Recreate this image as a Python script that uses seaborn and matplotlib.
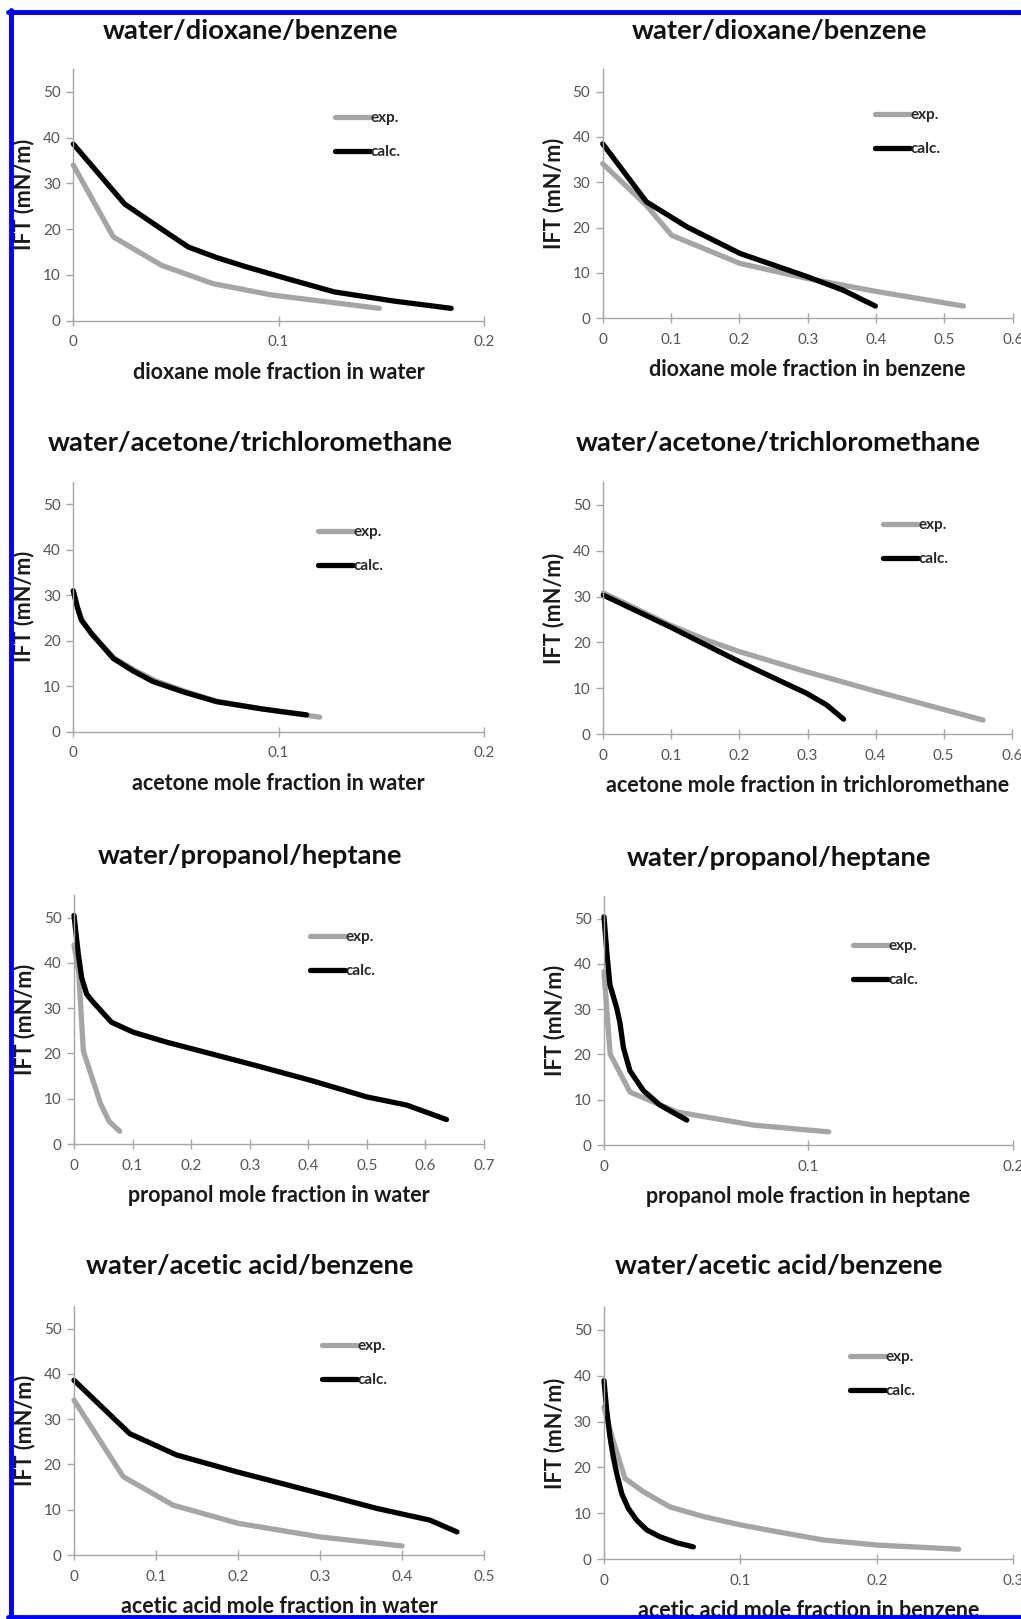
import matplotlib
matplotlib.use("Agg")
import matplotlib.pyplot as plt
import seaborn as sns
import pandas as pd
from matplotlib.ticker import FixedLocator, FuncFormatter
from matplotlib.lines import Line2D

# ---------------- data ----------------
series_names = ["exp.", "calc."]
y_label = "IFT (mN/m)"

titles = ["water/dioxane/benzene", "water/dioxane/benzene",
          "water/acetone/trichloromethane", "water/acetone/trichloromethane",
          "water/propanol/heptane", "water/propanol/heptane",
          "water/acetic acid/benzene", "water/acetic acid/benzene"]
x_labels = ["dioxane mole fraction in water", "dioxane mole fraction in benzene",
            "acetone mole fraction in water", "acetone mole fraction in trichloromethane",
            "propanol mole fraction in water", "propanol mole fraction in heptane",
            "acetic acid mole fraction in water", "acetic acid mole fraction in benzene"]
x_max = [0.2, 0.6, 0.2, 0.6, 0.7, 0.2, 0.5, 0.3]
y_ticks = [0, 10, 20, 30, 40, 50]

# panel 1
p1_exp_x = [0, 0.0195, 0.043, 0.068, 0.097, 0.149]
p1_exp_y = [34.0, 18.3, 12.1, 8.1, 5.6, 2.7]
p1_calc_x = [0, 0.025, 0.044, 0.056, 0.0698, 0.084, 0.104, 0.127, 0.156, 0.184]
p1_calc_y = [38.6, 25.5, 19.7, 16.1, 13.8, 11.8, 9.2, 6.3, 4.3, 2.7]
# panel 2
p2_exp_x = [0, 0.064, 0.101, 0.201, 0.299, 0.401, 0.528]
p2_exp_y = [34.1, 24.9, 18.3, 12.1, 8.8, 5.9, 2.7]
p2_calc_x = [0, 0.064, 0.123, 0.201, 0.299, 0.352, 0.399]
p2_calc_y = [38.5, 25.7, 20.2, 14.3, 9.2, 6.2, 2.7]
# panel 3
p3_exp_x = [0, 0.002, 0.004, 0.009, 0.020, 0.030, 0.040, 0.055, 0.070, 0.095, 0.120]
p3_exp_y = [31.0, 27.5, 24.8, 21.3, 16.2, 13.5, 11.2, 8.8, 6.7, 4.8, 3.2]
p3_calc_x = [0, 0.002, 0.004, 0.0089, 0.0195, 0.029, 0.039, 0.054, 0.0698, 0.092, 0.1136]
p3_calc_y = [31.0, 27.3, 24.5, 21.6, 16.1, 13.4, 11.0, 8.7, 6.6, 5.0, 3.7]
# panel 4
p4_exp_x = [0, 0.098, 0.152, 0.200, 0.299, 0.402, 0.558]
p4_exp_y = [30.8, 23.8, 20.5, 18.0, 13.6, 9.3, 3.1]
p4_calc_x = [0, 0.098, 0.200, 0.299, 0.328, 0.353]
p4_calc_y = [30.3, 23.4, 15.8, 8.9, 6.4, 3.3]
# panel 5
p5_exp_x = [0, 0.008, 0.016, 0.030, 0.045, 0.060, 0.078]
p5_exp_y = [44.0, 38.0, 20.5, 15.0, 9.0, 5.0, 2.8]
p5_calc_x = [0, 0.0074, 0.013, 0.0216, 0.033, 0.064, 0.101, 0.158, 0.300, 0.403, 0.500, 0.568, 0.636]
p5_calc_y = [50.5, 41.9, 36.8, 33.1, 31.3, 26.9, 24.7, 22.5, 17.7, 14.1, 10.4, 8.6, 5.4]
# panel 6
p6_exp_x = [0, 0.003, 0.0127, 0.0356, 0.073, 0.110]
p6_exp_y = [38.3, 20.1, 11.7, 7.3, 4.4, 2.9]
p6_calc_x = [0, 0.0015, 0.0029, 0.0062, 0.0078, 0.0095, 0.0127, 0.0193, 0.0274, 0.0405]
p6_calc_y = [50.4, 42.0, 35.4, 30.3, 27.0, 21.5, 16.4, 12.0, 8.8, 5.5]
# panel 7
p7_exp_x = [0, 0.060, 0.121, 0.200, 0.300, 0.400]
p7_exp_y = [34.2, 17.3, 11.0, 7.0, 4.0, 2.0]
p7_calc_x = [0, 0.068, 0.125, 0.198, 0.300, 0.369, 0.434, 0.467]
p7_calc_y = [38.6, 26.8, 22.1, 18.4, 13.6, 10.3, 7.7, 5.1]
# panel 8
p8_exp_x = [0, 0.006, 0.0154, 0.0289, 0.0484, 0.073, 0.0998, 0.127, 0.161, 0.200, 0.260]
p8_exp_y = [33.1, 26.5, 17.6, 14.7, 11.4, 9.3, 7.5, 6.0, 4.2, 3.1, 2.2]
p8_calc_x = [0, 0.002, 0.0044, 0.0068, 0.0093, 0.013, 0.0178, 0.024, 0.0313, 0.041, 0.0533, 0.0655]
p8_calc_y = [38.9, 32.4, 26.6, 22.3, 18.7, 14.3, 11.1, 8.5, 6.4, 4.9, 3.6, 2.7]

panel_data = [
    (p1_exp_x, p1_exp_y, p1_calc_x, p1_calc_y),
    (p2_exp_x, p2_exp_y, p2_calc_x, p2_calc_y),
    (p3_exp_x, p3_exp_y, p3_calc_x, p3_calc_y),
    (p4_exp_x, p4_exp_y, p4_calc_x, p4_calc_y),
    (p5_exp_x, p5_exp_y, p5_calc_x, p5_calc_y),
    (p6_exp_x, p6_exp_y, p6_calc_x, p6_calc_y),
    (p7_exp_x, p7_exp_y, p7_calc_x, p7_calc_y),
    (p8_exp_x, p8_exp_y, p8_calc_x, p8_calc_y),
]

# ---------------- layout (pixels) ----------------
W, H = 1021, 1619
axes_px = [  # left, right, top, bottom
    (73.3, 484.0, 69.0, 320.7),
    (602.7, 1012.7, 69.0, 318.3),
    (73.3, 484.0, 481.7, 731.7),
    (603.3, 1011.7, 481.7, 734.3),
    (74.0, 484.0, 895.0, 1144.0),
    (604.0, 1012.7, 896.0, 1145.0),
    (74.0, 484.0, 1306.0, 1555.0),
    (604.0, 1013.3, 1306.7, 1559.3),
]
title_px = [(250, 31), (779, 31), (250, 443), (778, 443),
            (250, 856), (779, 858), (250, 1266), (779, 1266)]
legend_px = [(335, 118), (875, 115), (318, 532), (883, 525),
             (310, 937), (853, 946), (322, 1346), (850, 1357)]

sns.set_theme(style="white")
plt.rcParams['font.family'] = ['Lato', 'DejaVu Sans']

fig = plt.figure(figsize=(W / 100, H / 100), dpi=100)
palette = {"exp.": "#a5a5a5", "calc.": "#000000"}
axis_gray = "#a6a6a6"
tick_gray = "#555555"

for i in range(8):
    l, r, t, b = axes_px[i]
    ax = fig.add_axes([l / W, 1 - b / H, (r - l) / W, (b - t) / H])
    ex, ey, cx, cy = panel_data[i]
    df = pd.DataFrame({
        "x": list(ex) + list(cx),
        "ift": list(ey) + list(cy),
        "series": ["exp."] * len(ex) + ["calc."] * len(cx),
    })
    sns.lineplot(data=df, x="x", y="ift", hue="series", hue_order=series_names,
                 palette=palette, linewidth=3.8, sort=False, estimator=None,
                 solid_capstyle="round", solid_joinstyle="round", ax=ax)
    ax.set_xlim(0, x_max[i])
    ax.set_ylim(0, 55)
    nt = int(round(x_max[i] / 0.1))
    ax.xaxis.set_major_locator(FixedLocator([k * 0.1 for k in range(nt + 1)]))
    ax.yaxis.set_major_locator(FixedLocator(y_ticks))
    ax.xaxis.set_major_formatter(FuncFormatter(lambda v, p: "%g" % round(v, 2)))
    for s in ["top", "right"]:
        ax.spines[s].set_visible(False)
    for s in ["left", "bottom"]:
        ax.spines[s].set_color(axis_gray)
        ax.spines[s].set_linewidth(1.0)
    ax.tick_params(axis="x", direction="inout", length=7, width=1, color=axis_gray,
                   labelcolor=tick_gray, labelsize=11, pad=7, bottom=True)
    ax.tick_params(axis="y", direction="out", length=5, width=1, color=axis_gray,
                   labelcolor=tick_gray, labelsize=11, pad=4, left=True)
    ax.set_xlabel(x_labels[i], fontsize=15.5, fontweight="bold", color="#1a1a1a", labelpad=9)
    ax.set_ylabel(y_label, fontsize=15.5, fontweight="bold", color="#1a1a1a", labelpad=6)
    for sp in ax.spines.values():
        sp.set_clip_on(False)
    for ln in ax.lines:
        ln.set_clip_on(False)

    handles, labels = ax.get_legend_handles_labels()
    lx, ly = legend_px[i]
    ax.legend(handles, labels, loc="upper left", frameon=False,
              bbox_to_anchor=((lx - l) / (r - l), (b - (ly - 7)) / (b - t)),
              borderpad=0, borderaxespad=0, handlelength=2.3, handletextpad=0.05,
              labelspacing=1.3, prop={"weight": "bold", "size": 11})

    fig.text(title_px[i][0] / W, 1 - title_px[i][1] / H, titles[i],
             ha="center", va="center", fontsize=19.7, fontweight="bold", color="#111111")

# blue frame
blue = "#0000ff"
fig.add_artist(Line2D([8 / W, 1.0], [1 - 12 / H, 1 - 12 / H], color=blue, lw=3.5))
fig.add_artist(Line2D([10.5 / W, 10.5 / W], [1 - 10 / H, 1 - 1617 / H], color=blue, lw=3.5))
fig.add_artist(Line2D([8 / W, 1.0], [1 - 1617 / H, 1 - 1617 / H], color=blue, lw=3.5))

fig.savefig("out.png", dpi=100)
